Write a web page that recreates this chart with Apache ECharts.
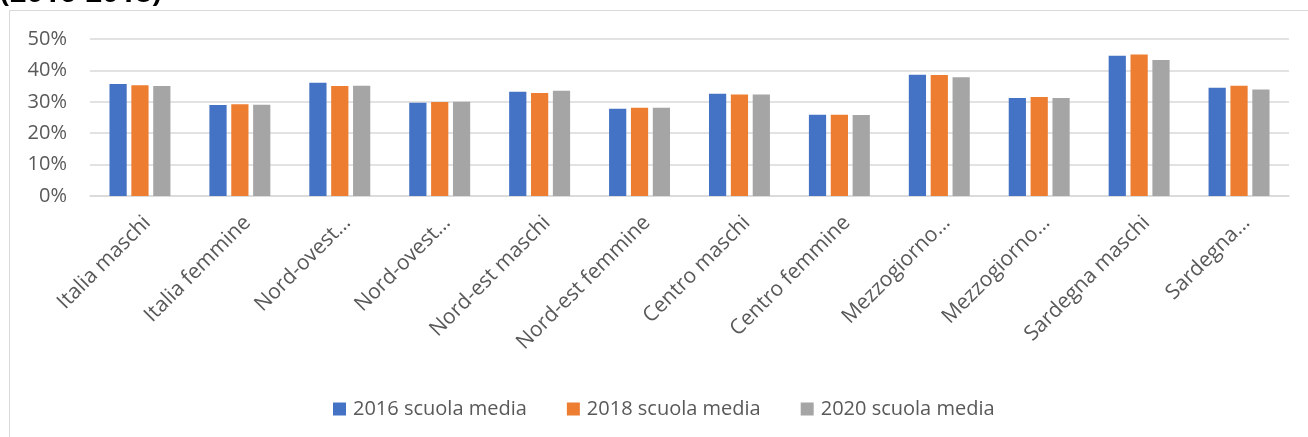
<!DOCTYPE html>
<html>
<head>
<meta charset="utf-8">
<script src="https://cdn.jsdelivr.net/npm/echarts@6/dist/echarts.min.js"></script>
<style>
  html, body { margin: 0; padding: 0; background: #ffffff; }
  #chart { width: 1308px; height: 437px; }
</style>
</head>
<body>
<div id="chart"></div>
<script>
// Quota per area e sesso, scuola media (valori in %)
const categories = [
  'Italia maschi', 'Italia femmine', 'Nord-ovest maschi', 'Nord-ovest femmine',
  'Nord-est maschi', 'Nord-est femmine', 'Centro maschi', 'Centro femmine',
  'Mezzogiorno maschi', 'Mezzogiorno femmine', 'Sardegna maschi', 'Sardegna femmine'
];
// Etichette come appaiono sull'asse (quelle lunghe sono abbreviate)
const tickLabels = [
  'Italia maschi', 'Italia femmine', 'Nord-ovest…', 'Nord-ovest…',
  'Nord-est maschi', 'Nord-est femmine', 'Centro maschi', 'Centro femmine',
  'Mezzogiorno…', 'Mezzogiorno…', 'Sardegna maschi', 'Sardegna…'
];
const seriesNames = ['2016 scuola media', '2018 scuola media', '2020 scuola media'];
const values2016 = [35.7, 29.0, 36.1, 29.7, 33.2, 27.8, 32.6, 25.9, 38.6, 31.2, 44.7, 34.5];
const values2018 = [35.3, 29.2, 35.0, 29.9, 32.8, 28.1, 32.3, 25.9, 38.5, 31.5, 45.1, 35.1];
const values2020 = [35.0, 29.1, 35.1, 30.0, 33.5, 28.1, 32.3, 25.8, 37.8, 31.2, 43.3, 33.9];
const yTicks = [0, 10, 20, 30, 40, 50];

const colors = ['#4472C4', '#ED7D31', '#A5A5A5'];
const font = '"Open Sans", "Noto Sans", sans-serif';
const textColor = '#595959';
const gridColor = '#D9D9D9';

const chart = echarts.init(document.getElementById('chart'), null, { renderer: 'canvas' });

function barSeries(name, data, color) {
  return {
    name: name,
    type: 'bar',
    data: data,
    itemStyle: { color: color },
    barGap: '27%',
    barCategoryGap: '39%',
    emphasis: { disabled: true }
  };
}

chart.setOption({
  animation: false,
  color: colors,
  graphic: [
    {
      type: 'rect',
      shape: { x: 9.5, y: 10.5, width: 1400, height: 500 },
      style: { fill: null, stroke: gridColor, lineWidth: 1 },
      silent: true,
      z: -1
    },
    {
      type: 'text',
      left: 0,
      top: -21,
      style: {
        text: '(2016-2018)',
        fontFamily: font,
        fontWeight: 'bold',
        fontSize: 29,
        fill: '#000000'
      },
      silent: true
    }
  ],
  grid: { left: 90, right: 19, top: 39, bottom: 241, containLabel: false },
  legend: {
    data: seriesNames,
    left: 328,
    top: 394,
    icon: 'rect',
    itemWidth: 13,
    itemHeight: 13,
    itemGap: 40,
    textStyle: { fontFamily: font, fontSize: 20, color: textColor, padding: [0, 0, 0, 2] }
  },
  xAxis: {
    type: 'category',
    data: categories,
    axisLine: { lineStyle: { color: gridColor, width: 1.5 } },
    axisTick: { show: false },
    axisLabel: {
      interval: 0,
      rotate: 45,
      margin: 16,
      verticalAlign: 'top',
      fontFamily: font,
      fontSize: 21,
      color: textColor,
      formatter: function (value, index) { return tickLabels[index]; }
    }
  },
  yAxis: {
    type: 'value',
    min: yTicks[0],
    max: yTicks[yTicks.length - 1],
    interval: 10,
    axisLine: { show: false },
    axisTick: { show: false },
    splitLine: { lineStyle: { color: gridColor, width: 1.5 } },
    axisLabel: {
      margin: 23,
      fontFamily: font,
      fontSize: 20,
      color: textColor,
      formatter: '{value}%'
    }
  },
  series: [
    barSeries(seriesNames[0], values2016, colors[0]),
    barSeries(seriesNames[1], values2018, colors[1]),
    barSeries(seriesNames[2], values2020, colors[2])
  ]
});
</script>
</body>
</html>
